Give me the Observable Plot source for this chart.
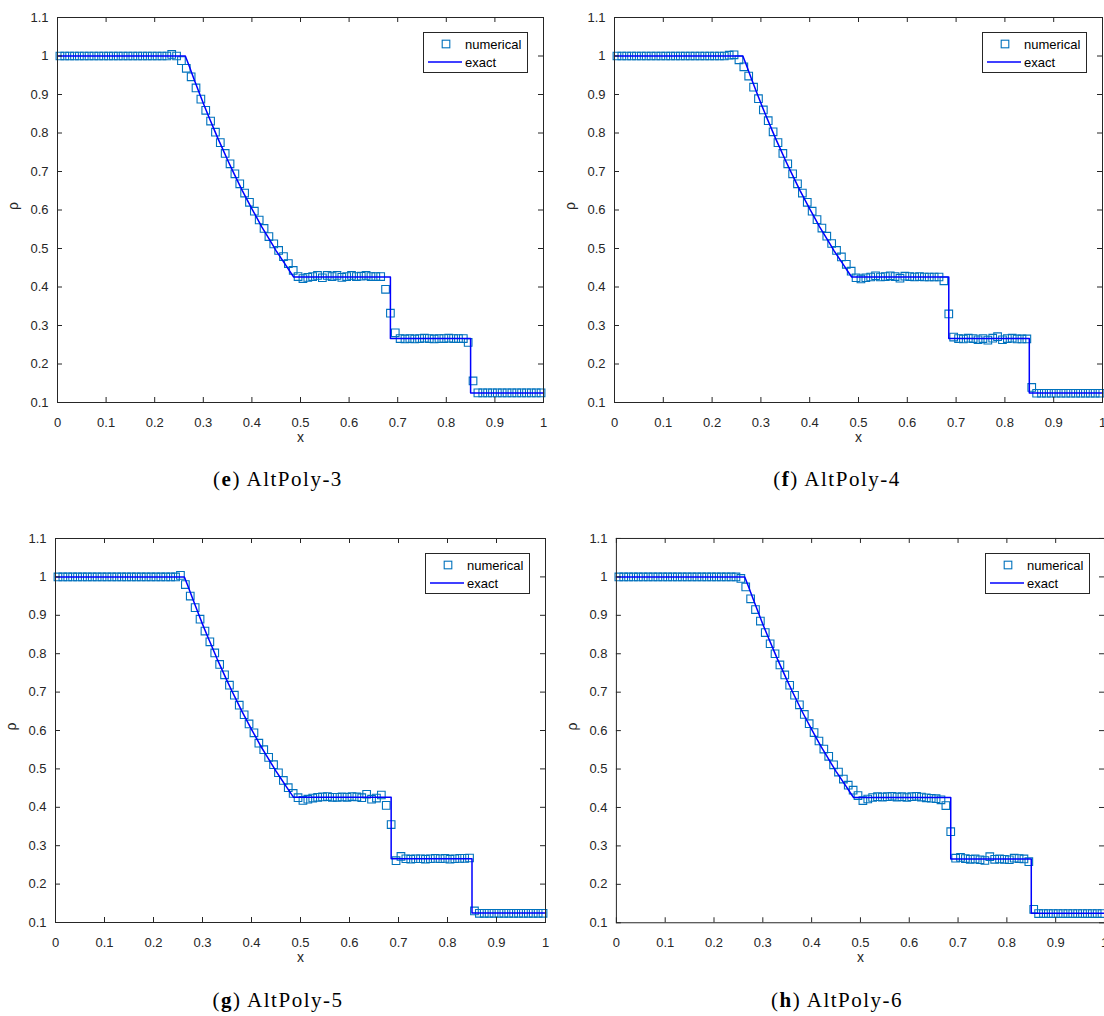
<!DOCTYPE html>
<html><head><meta charset="utf-8">
<script src="https://cdn.jsdelivr.net/npm/d3@7"></script>
<script src="https://cdn.jsdelivr.net/npm/@observablehq/plot@0.6"></script>
<style>
html,body{margin:0;padding:0;background:#fff;overflow:hidden;}
#root{position:relative;width:1104px;height:1016px;overflow:hidden;background:#fff;}
.panel{position:absolute;overflow:hidden;}
.legend{position:absolute;}
.caption{position:absolute;font-family:"Liberation Serif","Times New Roman",serif;font-size:21px;line-height:21px;letter-spacing:1.5px;color:#000;white-space:nowrap;transform:translateX(-50%);}
</style></head><body><div id="root"></div>
<script>
// cell centres of the numerical grid
const cellX = [
0.005,0.015,0.025,0.035,0.045,0.055,0.065,0.075,0.085,0.095,
0.105,0.115,0.125,0.135,0.145,0.155,0.165,0.175,0.185,0.195,
0.205,0.215,0.225,0.235,0.245,0.255,0.265,0.275,0.285,0.295,
0.305,0.315,0.325,0.335,0.345,0.355,0.365,0.375,0.385,0.395,
0.405,0.415,0.425,0.435,0.445,0.455,0.465,0.475,0.485,0.495,
0.505,0.515,0.525,0.535,0.545,0.555,0.565,0.575,0.585,0.595,
0.605,0.615,0.625,0.635,0.645,0.655,0.665,0.675,0.685,0.695,
0.705,0.715,0.725,0.735,0.745,0.755,0.765,0.775,0.785,0.795,
0.805,0.815,0.825,0.835,0.845,0.855,0.865,0.875,0.885,0.895,
0.905,0.915,0.925,0.935,0.945,0.955,0.965,0.975,0.985,0.995];

// exact solution
const exactX = [0,0.263,0.27,0.28,0.29,0.30,0.31,0.32,0.33,0.34,0.35,0.36,0.37,0.38,0.39,0.40,0.41,0.42,0.43,0.44,0.45,0.46,0.47,0.48,0.486,0.685,0.685,0.850,0.850,1];
const exactRho = [1,1,0.977,0.943,0.910,0.877,0.846,0.816,0.786,0.758,0.730,0.703,0.677,0.651,0.627,0.603,0.580,0.557,0.536,0.515,0.494,0.475,0.456,0.437,0.426,0.426,0.266,0.266,0.125,0.125];

// numerical densities
const rhoAltPoly3 = [
1,1,1,1,1,1,1,1,1,1,
1,1,1,1,1,1,1,1,1,1,
1,1,1,1.004,1.000,0.988,0.968,0.946,0.917,0.888,
0.859,0.831,0.802,0.775,0.747,0.720,0.694,0.668,0.644,0.620,
0.597,0.574,0.552,0.531,0.512,0.495,0.479,0.461,0.443,0.427,
0.422,0.425,0.427,0.430,0.424,0.430,0.427,0.430,0.425,0.427,
0.430,0.427,0.428,0.430,0.427,0.427,0.427,0.394,0.332,0.281,
0.266,0.265,0.266,0.265,0.266,0.267,0.266,0.265,0.266,0.266,
0.267,0.266,0.266,0.266,0.256,0.156,0.125,0.125,0.125,0.125,
0.125,0.125,0.125,0.125,0.125,0.125,0.125,0.125,0.125,0.125];
const rhoAltPoly4 = [
1,1,1,1,1,1,1,1,1,1,
1,1,1,1,1,1,1,1,1,1,
1,1,1,1.002,1.003,0.990,0.972,0.948,0.919,0.889,
0.860,0.832,0.803,0.775,0.747,0.720,0.694,0.668,0.644,0.620,
0.597,0.575,0.553,0.532,0.513,0.495,0.478,0.459,0.441,0.424,
0.421,0.424,0.426,0.429,0.426,0.427,0.429,0.427,0.423,0.428,
0.427,0.426,0.427,0.426,0.426,0.426,0.426,0.416,0.330,0.270,
0.266,0.265,0.267,0.266,0.263,0.266,0.262,0.267,0.271,0.263,
0.266,0.267,0.265,0.265,0.265,0.139,0.124,0.124,0.124,0.124,
0.124,0.124,0.124,0.124,0.124,0.124,0.124,0.124,0.124,0.124];
const rhoAltPoly5 = [
1,1,1,1,1,1,1,1,1,1,
1,1,1,1,1,1,1,1,1,1,
1,1,1,1,1,1.004,0.980,0.950,0.920,0.890,
0.859,0.831,0.802,0.772,0.745,0.718,0.692,0.666,0.641,0.617,
0.594,0.567,0.550,0.530,0.511,0.490,0.470,0.451,0.436,0.425,
0.418,0.421,0.424,0.426,0.427,0.428,0.426,0.426,0.427,0.426,
0.428,0.427,0.425,0.434,0.421,0.424,0.432,0.405,0.355,0.261,
0.272,0.266,0.265,0.266,0.266,0.265,0.266,0.267,0.266,0.267,
0.265,0.266,0.267,0.267,0.268,0.130,0.124,0.124,0.124,0.124,
0.124,0.124,0.124,0.124,0.124,0.124,0.124,0.124,0.124,0.124];
const rhoAltPoly6 = [
1,1,1,1,1,1,1,1,1,1,
1,1,1,1,1,1,1,1,1,1,
1,1,1,1,1,0.996,0.974,0.943,0.915,0.885,
0.855,0.826,0.800,0.771,0.745,0.718,0.692,0.667,0.642,0.618,
0.595,0.573,0.552,0.533,0.511,0.492,0.474,0.458,0.445,0.431,
0.418,0.422,0.426,0.428,0.427,0.428,0.429,0.427,0.428,0.426,
0.428,0.429,0.427,0.425,0.424,0.423,0.420,0.405,0.337,0.268,
0.270,0.267,0.265,0.266,0.264,0.262,0.272,0.265,0.266,0.265,
0.264,0.268,0.267,0.266,0.259,0.135,0.124,0.124,0.124,0.124,
0.124,0.124,0.124,0.124,0.124,0.124,0.124,0.124,0.124,0.124];

const xTicks = [0,0.1,0.2,0.3,0.4,0.5,0.6,0.7,0.8,0.9,1];
const xTickLabels = ["0","0.1","0.2","0.3","0.4","0.5","0.6","0.7","0.8","0.9","1"];
const yTicks = [0.1,0.2,0.3,0.4,0.5,0.6,0.7,0.8,0.9,1,1.1];
const yTickLabels = ["0.1","0.2","0.3","0.4","0.5","0.6","0.7","0.8","0.9","1","1.1"];

const panelLetters = ["e","f","g","h"];
const panelNames = ["AltPoly-3","AltPoly-4","AltPoly-5","AltPoly-6"];
const panelRho = [rhoAltPoly3, rhoAltPoly4, rhoAltPoly5, rhoAltPoly6];
const legendLabels = ["numerical","exact"];

const layout = [
  {left:0,   top:0,   width:552, height:450, ml:57, mr:9, mt:17, mb:48, capX:278, capTop:469},
  {left:552, top:0,   width:552, height:450, ml:62, mr:2, mt:17, mb:48, capX:837, capTop:469},
  {left:0,   top:520, width:552, height:450, ml:55, mr:7, mt:18, mb:48, capX:278, capTop:990},
  {left:552, top:520, width:553, height:450, ml:64, mr:0, mt:18, mb:47, capX:837, capTop:990}
];

const AX = "#262626";
const root = document.getElementById("root");
const exact = exactX.map((x,i)=>({x, y: exactRho[i]}));

layout.forEach((p, k) => {
  const pw = p.width - p.ml - p.mr, ph = p.height - p.mt - p.mb;
  const data = cellX.map((x,i)=>({x, y: panelRho[k][i]}));
  const chart = Plot.plot({
    width: p.width, height: p.height,
    marginLeft: p.ml, marginRight: p.mr, marginTop: p.mt, marginBottom: p.mb,
    style: {fontFamily: '"Liberation Sans", Arial, Helvetica, sans-serif', fontSize: "13px", color: AX, background: "white", overflow: "hidden"},
    x: {domain: [0,1]},
    y: {domain: [0.1,1.1]},
    marks: [
      Plot.dot(data, {x:"x", y:"y", symbol:"square", r:4.3, stroke:"#0072BD", strokeWidth:1.1, fill:"none"}),
      Plot.line(exact, {x:"x", y:"y", stroke:"#0000FF", strokeWidth:1.5}),
      Plot.frame({stroke: AX, strokeWidth: 1}),
      Plot.tickX(xTicks, {x: d=>d, insetTop: ph-5, stroke: AX}),
      Plot.tickX(xTicks, {x: d=>d, insetBottom: ph-5, stroke: AX}),
      Plot.tickY(yTicks, {y: d=>d, insetRight: pw-5, stroke: AX}),
      Plot.tickY(yTicks, {y: d=>d, insetLeft: pw-5, stroke: AX}),
      Plot.axisX(xTicks, {tickSize:0, tickPadding:15, tickFormat: d => xTickLabels[xTicks.indexOf(d)], label:null, fill: AX}),
      Plot.axisY(yTicks, {tickSize:0, tickPadding:9, tickFormat: d => yTickLabels[yTicks.indexOf(d)], label:null, fill: AX}),
      Plot.text(["x"], {frameAnchor:"bottom", dy:39, fontSize:14, fill: AX}),
      Plot.text(["ρ"], {frameAnchor:"left", dx:-44, rotate:-90, fontSize:14, fill: AX})
    ]
  });
  const div = document.createElement("div");
  div.className = "panel";
  div.style.left = p.left + "px"; div.style.top = p.top + "px";
  div.style.width = Math.min(p.width, 1104 - p.left) + "px"; div.style.height = p.height + "px";
  div.appendChild(chart);
  root.appendChild(div);

  // legend
  const lw = 105, lh = 41;
  const lg = document.createElement("div");
  lg.className = "legend";
  const plotRight = p.left + p.width - p.mr;
  lg.style.left = (plotRight - 15 - lw) + "px";
  lg.style.top = (p.top + p.mt + 15) + "px";
  lg.innerHTML = `<svg width="${lw}" height="${lh}" style="display:block;font-family:'Liberation Sans',Arial,sans-serif;font-size:13px">
    <rect x="0.5" y="0.5" width="${lw-1}" height="${lh-1}" fill="white" stroke="${AX}" stroke-width="1"/>
    <rect x="${23-3.8}" y="${12-3.8}" width="7.6" height="7.6" fill="none" stroke="#0072BD" stroke-width="1.1"/>
    <line x1="5" x2="39" y1="30" y2="30" stroke="#0000FF" stroke-width="1.5"/>
    <text x="42" y="12" dy="0.35em" fill="#000">${legendLabels[0]}</text>
    <text x="42" y="30" dy="0.35em" fill="#000">${legendLabels[1]}</text>
  </svg>`;
  root.appendChild(lg);

  // caption
  const cap = document.createElement("div");
  cap.className = "caption";
  cap.style.left = p.capX + "px";
  cap.style.top = p.capTop + "px";
  cap.innerHTML = `(<b>${panelLetters[k]}</b>) ${panelNames[k]}`;
  root.appendChild(cap);
});
</script>
</body></html>
